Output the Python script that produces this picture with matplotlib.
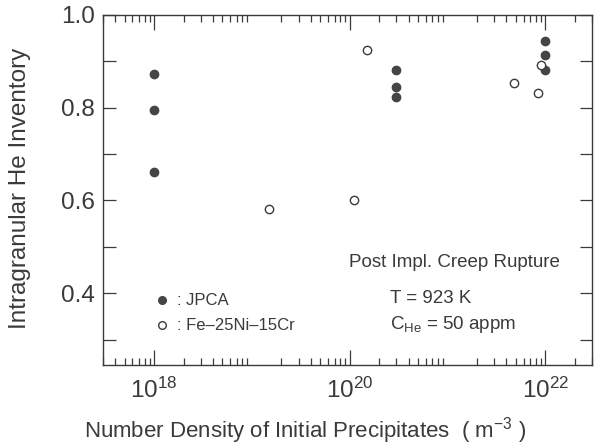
import numpy as np
import matplotlib
matplotlib.use("Agg")
import matplotlib.pyplot as plt
from matplotlib.ticker import LogLocator, MultipleLocator, NullFormatter

plt.rcParams['font.family'] = ['Liberation Sans', 'DejaVu Sans']
plt.rcParams['mathtext.fontset'] = 'custom'
plt.rcParams['mathtext.rm'] = 'Liberation Sans'
plt.rcParams['mathtext.it'] = 'Liberation Sans'

# JPCA (filled)
jpca_x = [1e18, 1e18, 1e18, 3e20, 3e20, 3e20, 1e22, 1e22, 1e22]
jpca_y = [0.872, 0.794, 0.662, 0.882, 0.844, 0.823, 0.943, 0.914, 0.882]
# Fe-25Ni-15Cr (open)
fe_x = [1.5e19, 1.1e20, 1.5e20, 4.8e21, 8.5e21, 9.0e21]
fe_y = [0.582, 0.602, 0.924, 0.853, 0.832, 0.893]

ink = '#3a3a3a'
fig = plt.figure(figsize=(6.07, 4.48), dpi=100)
ax = fig.add_axes([103/607, 1-365/448, (592-103)/607, (365-15)/448])

ax.plot(jpca_x, jpca_y, 'o', ms=6, color='#454545', mec='#454545')
ax.plot(fe_x, fe_y, 'o', ms=6, mfc='white', mec=ink, mew=1.0)

ax.set_xscale('log')
ax.set_xlim(3e17, 3e22)
ax.set_ylim(0.245, 1.0)
ax.set_xticks([1e18, 1e20, 1e22])
ax.xaxis.set_minor_locator(LogLocator(base=10, subs=np.arange(2, 10), numticks=20))
ax.xaxis.set_minor_formatter(NullFormatter())
ax.yaxis.set_minor_locator(MultipleLocator(0.1))
ax.set_yticks([0.4, 0.6, 0.8, 1.0])
ax.set_yticklabels(['0.4', '0.6', '0.8', '1.0'])

ax.tick_params(which='both', direction='in', top=True, right=True, colors=ink,
               labelsize=17.5, width=0.9)
ax.tick_params(axis='y', which='both', length=9, pad=6)
ax.tick_params(axis='x', which='major', length=11, pad=9)
ax.tick_params(axis='x', which='minor', length=5)
for s in ax.spines.values():
    s.set_color(ink)
    s.set_linewidth(1.0)

fig.text(20/607, 1-188/448, 'Intragranular He Inventory', rotation=90,
         ha='center', va='center', fontsize=17.5, color=ink)
fig.text(305/607, 1-431/448, r'Number Density of Initial Precipitates  ( m$^{-3}$ )',
         ha='center', va='center', fontsize=16, color=ink)

ax.plot([1.2e18], [0.385], 'o', ms=5.5, color='#454545')
ax.plot([1.2e18], [0.331], 'o', ms=5.5, mfc='white', mec=ink, mew=1.0)
ax.text(1.7e18, 0.385, ': JPCA', fontsize=12, color=ink, va='center')
ax.text(1.7e18, 0.331, ': Fe\u201325Ni\u201315Cr', fontsize=12, color=ink, va='center')

ax.text(0.98e20, 0.467, 'Post Impl. Creep Rupture', fontsize=13.5, color=ink, va='center')
ax.text(2.56e20, 0.389, 'T = 923 K', fontsize=13.5, color=ink, va='center')
ax.text(2.56e20, 0.333, r'C$_{\mathrm{He}}$ = 50 appm', fontsize=13.5, color=ink, va='center')

fig.savefig('out.png', dpi=100)
